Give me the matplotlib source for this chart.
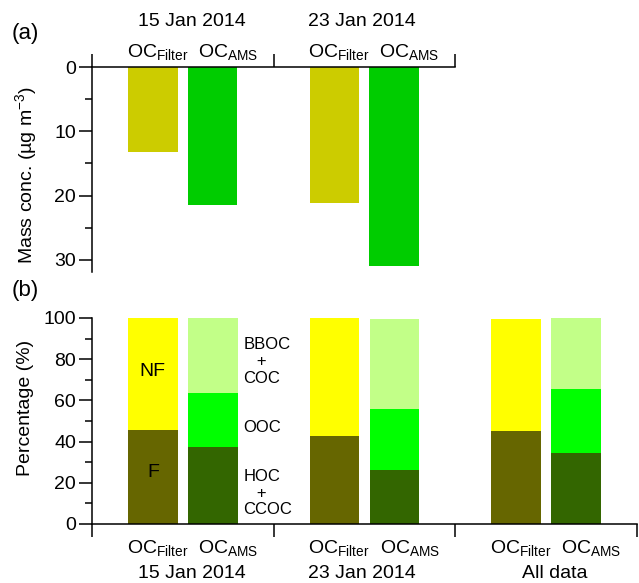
import matplotlib
matplotlib.use('Agg')
import matplotlib.pyplot as plt
import matplotlib.transforms as mtransforms

plt.rcParams['font.family'] = ['Liberation Sans', 'DejaVu Sans']
plt.rcParams['font.size'] = 14
plt.rcParams['mathtext.fontset'] = 'custom'
plt.rcParams['mathtext.rm'] = 'Liberation Sans'
plt.rcParams['mathtext.it'] = 'Liberation Sans:italic'
plt.rcParams['mathtext.bf'] = 'Liberation Sans:bold'

# panel (a): mass concentration (ug m-3)
mass_dates = ['15 Jan 2014', '23 Jan 2014']
mass_filter = [13.3, 21.1]
mass_ams = [21.5, 31.0]

# panel (b): percentage breakdown
pct_groups = ['15 Jan 2014', '23 Jan 2014', 'All data']
filter_f = [45.7, 42.9, 45.2]
filter_nf = [54.3, 57.1, 54.4]
ams_hoc = [37.6, 26.2, 34.5]
ams_ooc = [26.1, 29.7, 31.1]
ams_bboc = [36.3, 43.7, 34.4]

lab_filter = r'OC$_{\mathrm{Filter}}$'
lab_ams = r'OC$_{\mathrm{AMS}}$'

W, H = 639, 583
fig = plt.figure(figsize=(W / 100, H / 100), dpi=100)

def px(x, y):
    return x / W, 1 - y / H

ax_a = fig.add_axes([92 / W, 1 - 272 / H, 363 / W, 205 / H])
ax_b = fig.add_axes([92 / W, 1 - 524 / H, 545 / W, 206 / H])

bw = 0.273
off_f, off_a = 0.335, 0.665

# ---- panel (a)
for i in range(len(mass_dates)):
    ax_a.bar(i + off_f, mass_filter[i], width=bw, color='#CCCC00')
    ax_a.bar(i + off_a, mass_ams[i], width=bw, color='#00CC00')
ax_a.set_xlim(0, 2)
ax_a.set_ylim(31.9, 0)
ax_a.xaxis.tick_top()
ax_a.set_xticks([0, 1, 2])
ax_a.set_xticklabels([])
ax_a.set_yticks([0, 10, 20, 30])
ax_a.set_yticks([5, 15, 25], minor=True)
ax_a.spines['right'].set_visible(False)
ax_a.spines['bottom'].set_visible(False)

# ---- panel (b)
for i in range(len(pct_groups)):
    x1 = i + off_f
    x2 = i + off_a
    ax_b.bar(x1, filter_f[i], width=bw, color='#666600')
    ax_b.bar(x1, filter_nf[i], bottom=filter_f[i], width=bw, color='#FFFF00')
    ax_b.bar(x2, ams_hoc[i], width=bw, color='#336600')
    ax_b.bar(x2, ams_ooc[i], bottom=ams_hoc[i], width=bw, color='#00FF00')
    ax_b.bar(x2, ams_bboc[i], bottom=ams_hoc[i] + ams_ooc[i], width=bw, color='#C2FF88')
ax_b.set_xlim(0, 3)
ax_b.set_ylim(0, 100)
ax_b.set_xticks([0, 1, 2, 3])
ax_b.set_xticklabels([])
ax_b.set_yticks(range(0, 101, 20))
ax_b.set_yticks(range(10, 100, 20), minor=True)
ax_b.spines['right'].set_visible(False)
ax_b.spines['top'].set_visible(False)

for ax in (ax_a, ax_b):
    for s in ax.spines.values():
        s.set_linewidth(1.1)
    ax.tick_params(which='major', length=9.5, width=1.1, direction='out', pad=2, labelsize=14)
    ax.tick_params(which='minor', length=5, width=1.1, direction='out')
    ax.tick_params(axis='x', which='minor', length=0)

# annotations in panel (b)
ax_b.text(off_f, 74, 'NF', ha='center', va='center', fontsize=14)
ax_b.text(off_f, 25, 'F', ha='center', va='center', fontsize=14)
ax_b.text(0.832, 79, 'BBOC\n   +\nCOC', ha='left', va='center', fontsize=12, linespacing=1.15)
ax_b.text(0.832, 47, 'OOC', ha='left', va='center', fontsize=12)
ax_b.text(0.832, 15, 'HOC\n   +\nCCOC', ha='left', va='center', fontsize=12, linespacing=1.15)

# category labels
tr_a = mtransforms.blended_transform_factory(ax_a.transData, fig.transFigure)
tr_b = mtransforms.blended_transform_factory(ax_b.transData, fig.transFigure)
date_off = [0.55, 0.485, 0.55]
for i, d in enumerate(mass_dates):
    fig.text(i + 0.36, 1 - 57 / H, lab_filter, transform=tr_a, ha='center', va='baseline')
    fig.text(i + 0.75, 1 - 57 / H, lab_ams, transform=tr_a, ha='center', va='baseline')
    fig.text(i + date_off[i], 1 - 22 / H, d, transform=tr_a, ha='center', va='center')
for i, d in enumerate(pct_groups):
    fig.text(i + 0.36, 1 - 553 / H, lab_filter, transform=tr_b, ha='center', va='baseline')
    fig.text(i + 0.75, 1 - 553 / H, lab_ams, transform=tr_b, ha='center', va='baseline')
    fig.text(i + date_off[i], 1 - 573 / H, d, transform=tr_b, ha='center', va='center')

fig.text(*px(26, 175), 'Mass conc. (µg m$^{-3}$)', rotation=90, ha='center', va='center')
fig.text(*px(26, 408), 'Percentage (%)', rotation=90, ha='center', va='center')
fig.text(*px(12, 33), '(a)', ha='left', va='center', fontsize=16)
fig.text(*px(12, 291), '(b)', ha='left', va='center', fontsize=16)

fig.savefig('out.png', dpi=100)
